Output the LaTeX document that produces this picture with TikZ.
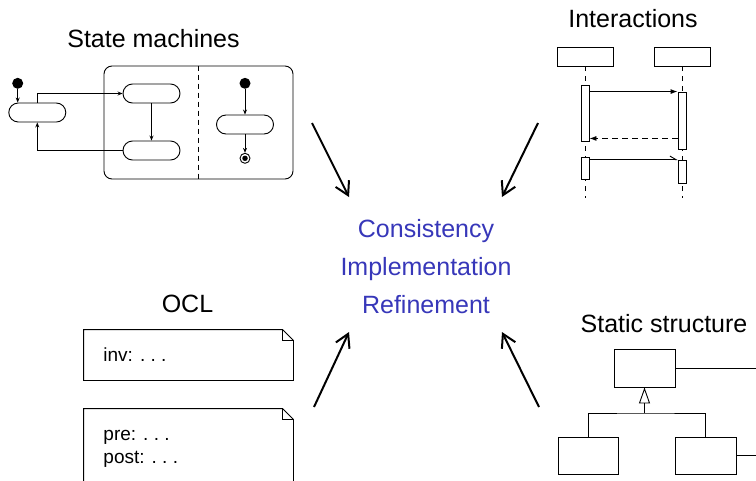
\documentclass[tikz,border=0pt]{standalone}
\usepackage{fontspec}
\setmainfont{Liberation Sans}
\usetikzlibrary{arrows.meta,shapes.misc,calc}
\definecolor{coreblue}{RGB}{55,55,185}
\begin{document}
\begin{tikzpicture}[x=1pt,y=-1pt,line width=0.9pt,
  title/.style={font=\fontsize{25}{30}\selectfont,anchor=base,inner sep=0pt},
  core/.style={title,text=coreblue},
  notetext/.style={font=\fontsize{19}{22}\selectfont,anchor=base west,inner sep=0pt},
  state/.style={rounded rectangle,draw,fill=white,minimum width=57pt,minimum height=19pt,inner sep=0pt},
  dot/.style={circle,fill,minimum size=11pt,inner sep=0pt},
  box/.style={rectangle,draw,fill=white,inner sep=0pt},
  act/.style={box,minimum width=8pt},
  blank/.style={rectangle,inner sep=0pt},
  sm/.style={-{Stealth[length=5pt,width=4pt]}},
  msg/.style={-{Latex[length=7pt,width=5pt]}},
  ret/.style={msg,dash pattern=on 6pt off 4pt},
  half/.style={-{Straight Barb[left,length=6pt,width=7pt]}},
  life/.style={dash pattern=on 5pt off 5pt},
  inh/.style={-{Triangle[open,length=16pt,width=11pt]}},
  big/.style={line width=2pt,-{Straight Barb[length=13pt,width=15pt]}},
  fold/.style={line width=0.5pt}]
\clip (0,0) rectangle (756,480);

% ---------- state machines ----------
\node[title] (tSM) at (153.5,47) {State machines};
\node[rectangle,draw,rounded corners=8pt,minimum width=189pt,minimum height=113pt,inner sep=0pt] (comp) at (198.5,122.5) {};
\draw[dash pattern=on 5pt off 4pt] (comp.north) -- (comp.south);
\node[dot] (i1) at (17.7,83.3) {};
\node[state] (s1) at (37.3,112.5) {};
\node[state] (s2) at (151.5,93.5) {};
\node[state] (s3) at (151.5,150.5) {};
\node[dot] (i2) at (245,83.3) {};
\node[state] (s4) at (245,124.5) {};
\node[circle,draw,minimum size=10pt,inner sep=0pt] (fin) at (245,158.3) {};
\node[circle,fill,minimum size=5.5pt,inner sep=0pt] (fdot) at (fin) {};
\draw[sm] (i1) -- (i1 |- s1.north);
\draw[sm] (s1.north) |- (s2.west);
\draw[sm] (s2.south) -- (s3.north);
\draw[sm] (s3.west) -| (s1.south);
\draw[sm] (i2) -- (s4.north);
\draw[sm] (s4.south) -- (fin.north);

% ---------- interactions ----------
\node[title] (tI) at (633,27) {Interactions};
\node[box,minimum width=56pt,minimum height=19pt] (oA) at (585,56.5) {};
\node[box,minimum width=56pt,minimum height=19pt] (oB) at (682,56.5) {};
\coordinate (eA) at (585,198);
\coordinate (eB) at (682,198);
\draw[life] (oA.south) -- (eA);
\draw[life] (oB.south) -- (eB);
\node[act,minimum height=56pt] (aA1) at (585,113) {};
\node[act,minimum height=57pt] (aB1) at (682,120.5) {};
\node[act,minimum height=22pt] (aA2) at (585,168) {};
\node[act,minimum height=23pt] (aB2) at (682,171.5) {};
\draw[msg] (aA1.east |- aB1.north) -- (aB1.north west);
\path ($(aA1.south east)+(0,-3)$) coordinate (rA);
\draw[ret] (rA -| aB1.west) -- (rA);
\draw[half] (aA2.east |- aB2.north) -- (aB2.north west);

% ---------- OCL ----------
\node[title] (tO) at (187.5,312) {OCL};
\node[blank,minimum width=209pt,minimum height=50pt] (n1) at (188.5,355) {};
\draw (n1.north west) -- ([xshift=-11pt]n1.north east) -- ([yshift=-11pt]n1.north east)
      -- (n1.south east) -- (n1.south west) -- cycle;
\draw[fold] ([xshift=-11pt]n1.north east) |- ([yshift=-11pt]n1.north east);
\node[notetext] (inv) at (103,361) {inv: .\ .\ .};
\node[blank,minimum width=209pt,minimum height=82pt] (n2) at (188.5,450) {};
\draw (n2.north west) -- ([xshift=-11pt]n2.north east) -- ([yshift=-11pt]n2.north east)
      -- (n2.south east) -- (n2.south west) -- cycle;
\draw[fold] ([xshift=-11pt]n2.north east) |- ([yshift=-11pt]n2.north east);
\node[notetext] (pre) at (103,440) {pre: .\ .\ .};
\node[notetext] (post) at (103,463) {post: .\ .\ .};

% ---------- static structure ----------
\node[title] (tS) at (664,332) {Static structure};
\node[box,minimum width=61pt,minimum height=38pt] (k0) at (644.5,368) {};
\node[box,minimum width=60pt,minimum height=37pt] (k1) at (588,455.5) {};
\node[box,minimum width=61pt,minimum height=37pt] (k2) at (705.5,455.5) {};
\coordinate (x0) at (756,368);
\coordinate (x2) at (756,455.5);
\coordinate (jn) at (644.5,413);
\draw (k0.east) -- (x0);
\draw (k2.east) -- (x2);
\draw[inh] (jn) -- (k0.south);
\draw (k1.north) |- (jn) -| (k2.north);

% ---------- centre ----------
\node[core] (cons) at (426,237) {Consistency};
\node[core] (impl) at (426,275) {Implementation};
\node[core] (refi) at (426,313) {Refinement};
\coordinate (p1) at (312,123);  \coordinate (q1) at (349,197);
\coordinate (p2) at (538,123);  \coordinate (q2) at (502,197);
\coordinate (p3) at (314,407);  \coordinate (q3) at (349,332);
\coordinate (p4) at (539,407);  \coordinate (q4) at (502,332);
\draw[big] (p1) -- (q1);
\draw[big] (p2) -- (q2);
\draw[big] (p3) -- (q3);
\draw[big] (p4) -- (q4);
\end{tikzpicture}
\end{document}
